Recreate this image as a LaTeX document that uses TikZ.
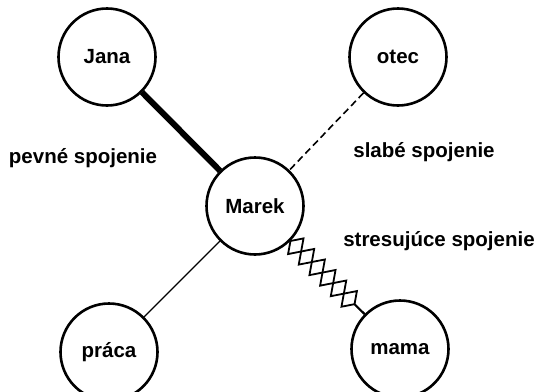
\documentclass[tikz,border=0pt]{standalone}
\usepackage{fontspec}
\setmainfont{Liberation Sans}
\usetikzlibrary{decorations.pathmorphing}
\begin{document}
\begin{tikzpicture}[x=1pt,y=-1pt,
  person/.style={circle,draw,line width=2.6pt,minimum size=97pt,inner sep=0pt,
    font=\fontsize{20.5}{24}\selectfont\bfseries},
  caption/.style={font=\fontsize{20.5}{24}\selectfont\bfseries,inner sep=0pt},
  strong/.style={line width=6pt},
  weak/.style={line width=1.6pt,dash pattern=on 7pt off 4pt},
  plain/.style={line width=1.4pt},
  stress/.style={line width=1.8pt,line join=miter,decorate,
    decoration={zigzag,segment length=30pt,amplitude=11pt}}]
\useasboundingbox (0,0) rectangle (538,391);
\begin{scope}
\clip (0,0) rectangle (538,391);
% people and domains around Marek
\node[person] (jana)  at (107,57)  {Jana};
\node[person] (otec)  at (398,57)  {otec};
\node[person] (marek) at (255,206) {Marek};
\node[person] (praca) at (109,352) {práca};
\node[person] (mama)  at (400,349) {mama};
% connections of various strength
\draw[strong] (jana) -- (marek);
\draw[weak] (otec) -- (marek);
\draw[plain] (marek) -- (praca);
\draw[stress] (marek) -- (mama);
\draw[stress,decoration={mirror}] (marek) -- (mama);
\end{scope}
% legend texts
\node[caption] (lpevne) at (83,158) {pevné spojenie};
\node[caption] (lslabe) at (424,152) {slabé spojenie};
\node[caption] (lstres) at (439,241) {stresujúce spojenie};
\end{tikzpicture}
\end{document}
